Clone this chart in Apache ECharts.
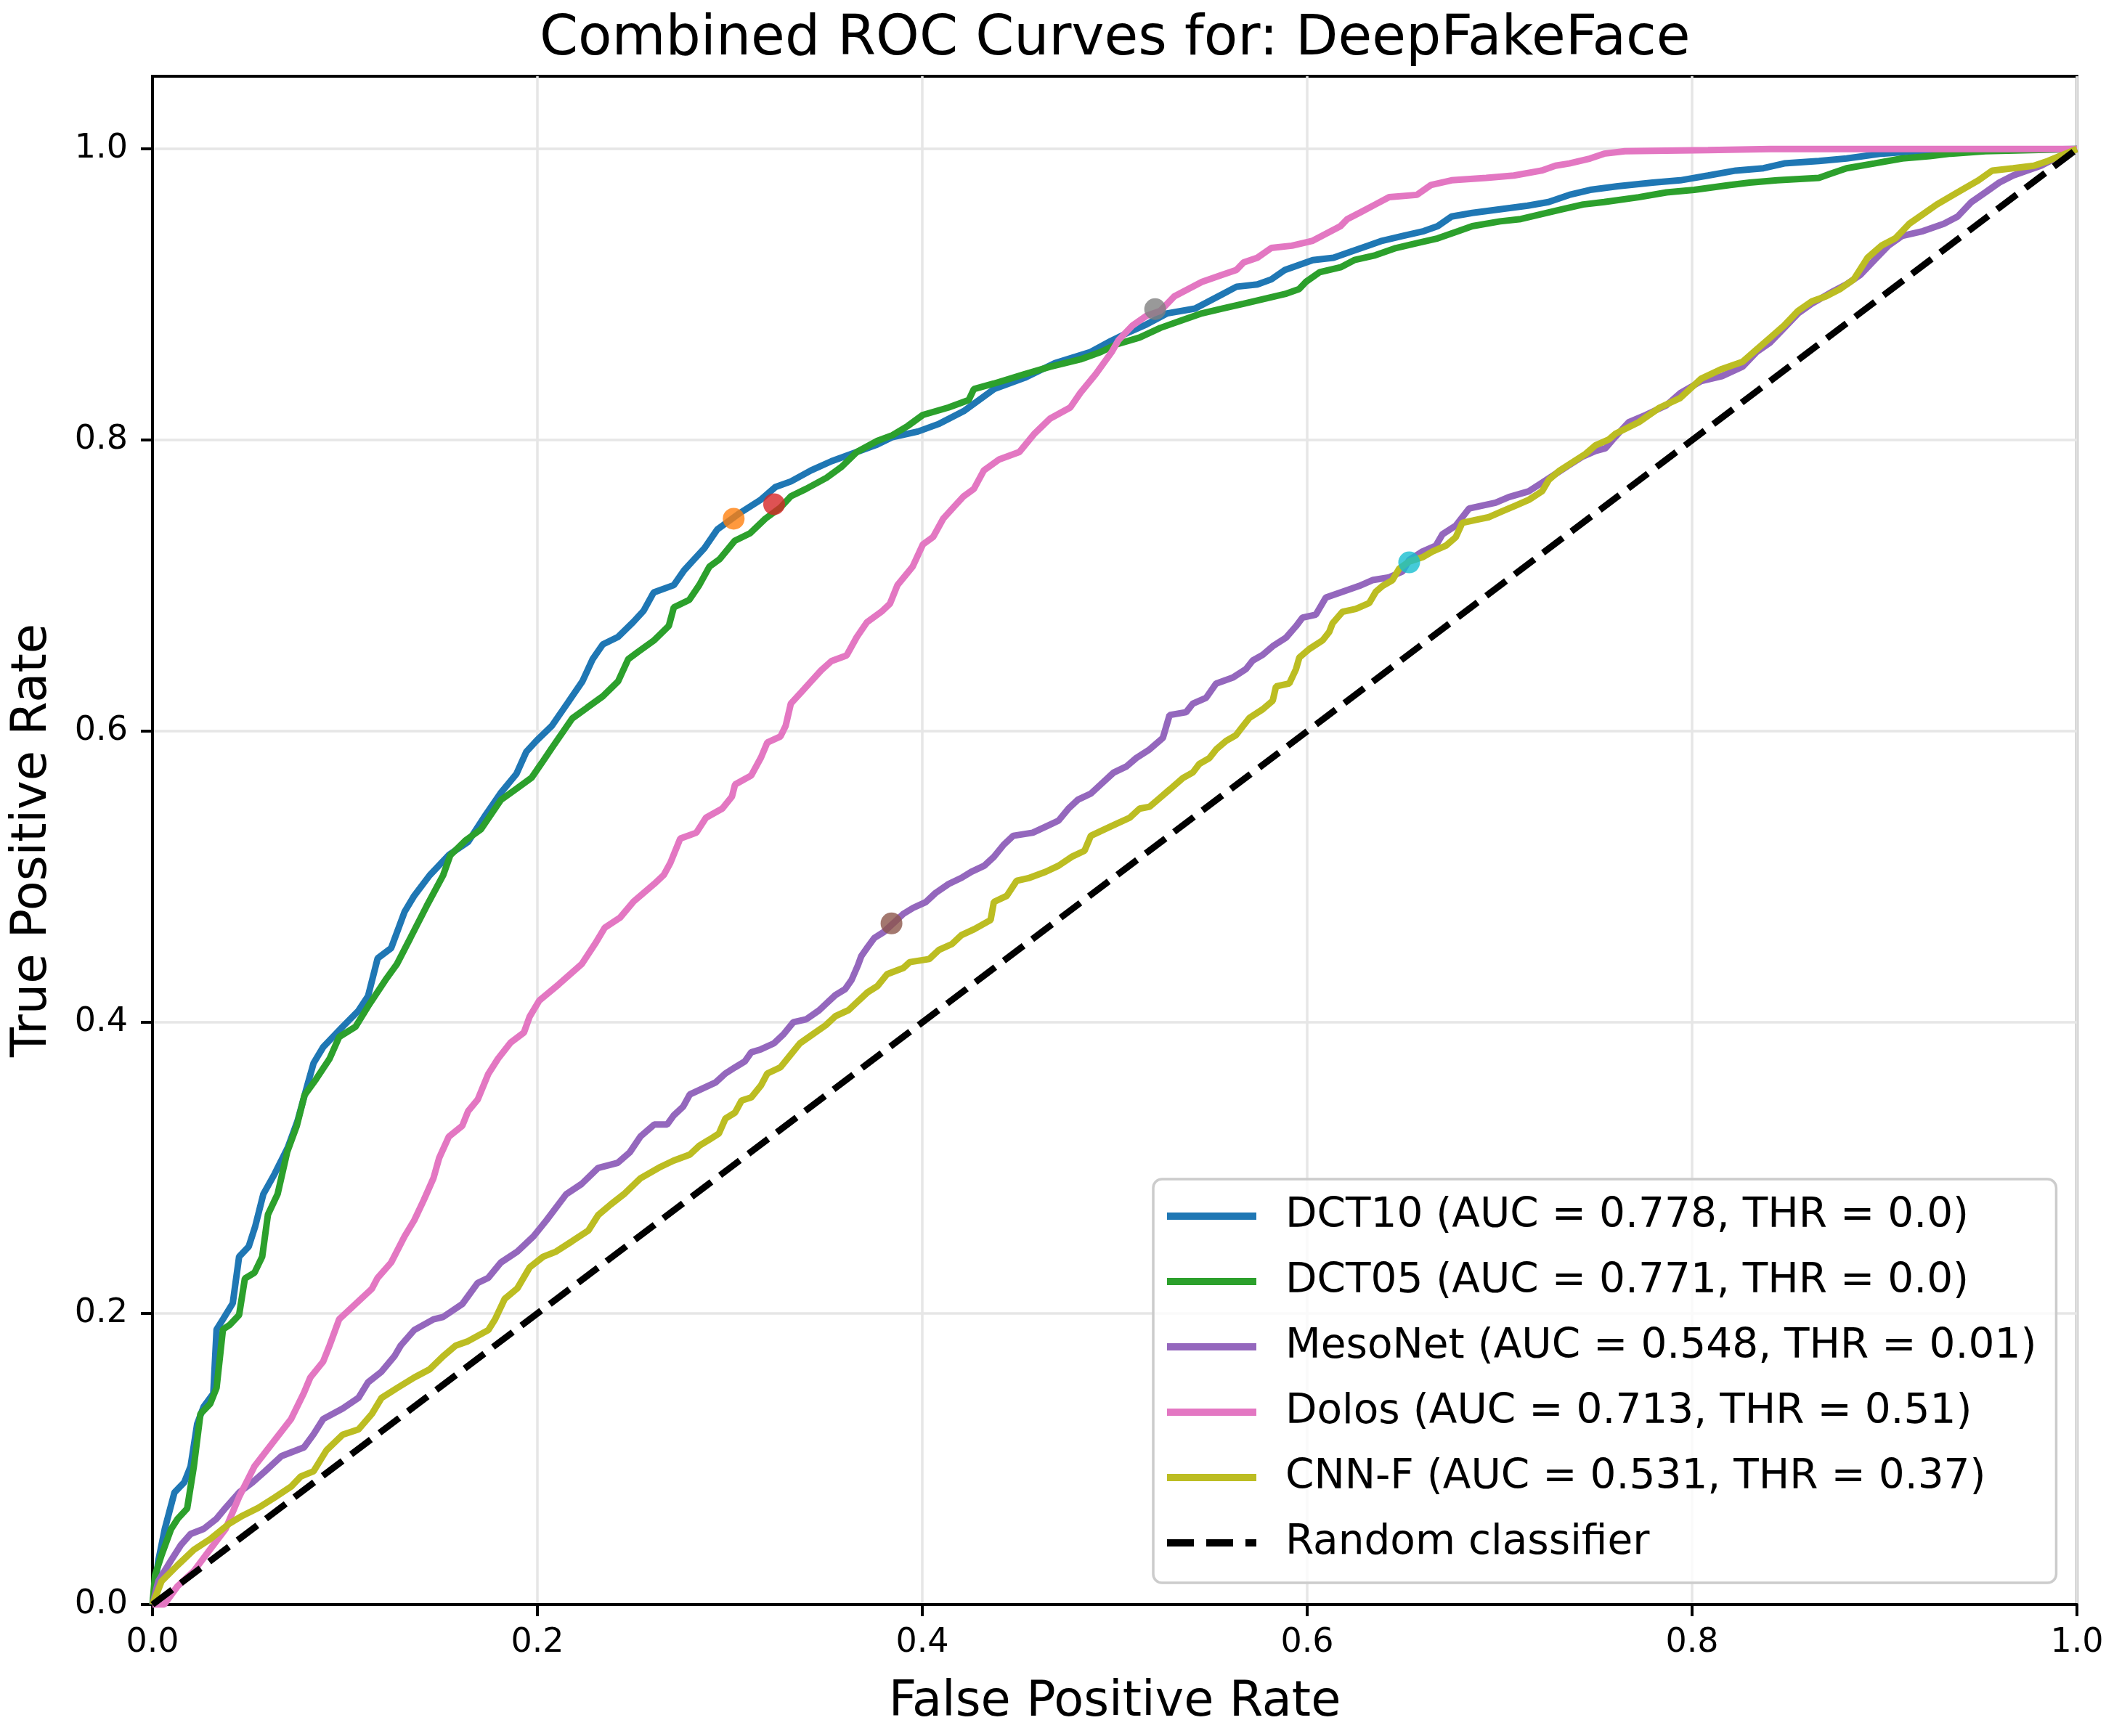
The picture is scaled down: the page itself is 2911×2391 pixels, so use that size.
<!DOCTYPE html>
<html>
<head>
<meta charset="utf-8">
<script src="https://cdn.jsdelivr.net/npm/echarts@6/dist/echarts.min.js"></script>
<style>
html,body{margin:0;padding:0;background:#fff;}
#chart{width:2911px;height:2391px;}
</style>
</head>
<body>
<div id="chart"></div>
<script>
// ---------- data ----------
var chartTitle = 'Combined ROC Curves for: DeepFakeFace';
var xTicks = [0, 0.2, 0.4, 0.6, 0.8, 1.0];
var yTicks = [0, 0.2, 0.4, 0.6, 0.8, 1.0];
var seriesNames = [
  'DCT10 (AUC = 0.778, THR = 0.0)',
  'DCT05 (AUC = 0.771, THR = 0.0)',
  'MesoNet (AUC = 0.548, THR = 0.01)',
  'Dolos (AUC = 0.713, THR = 0.51)',
  'CNN-F (AUC = 0.531, THR = 0.37)',
  'Random classifier'
];

var dct10 = [[0,0],[0.003,0.03],[0.0064,0.052],[0.0114,0.077],[0.0165,0.084],[0.0198,0.095],[0.0232,0.124],[0.0266,0.136],[0.0316,0.145],[0.0333,0.189],[0.0366,0.196],[0.0417,0.207],[0.045,0.239],[0.05,0.246],[0.0534,0.26],[0.0576,0.282],[0.0635,0.296],[0.0703,0.314],[0.0753,0.332],[0.0803,0.356],[0.0837,0.372],[0.0887,0.383],[0.0988,0.397],[0.107,0.408],[0.112,0.418],[0.117,0.444],[0.124,0.451],[0.131,0.476],[0.136,0.487],[0.144,0.501],[0.154,0.515],[0.164,0.524],[0.1732,0.5427],[0.1811,0.5579],[0.1891,0.5707],[0.1943,0.586],[0.1996,0.5936],[0.2075,0.6037],[0.2155,0.619],[0.2234,0.6343],[0.2287,0.6495],[0.234,0.6597],[0.2419,0.6648],[0.2498,0.675],[0.2551,0.6826],[0.2604,0.6953],[0.2709,0.7004],[0.2762,0.7105],[0.2815,0.7182],[0.2868,0.7258],[0.2934,0.7385],[0.3053,0.75],[0.3158,0.7588],[0.3237,0.7678],[0.3317,0.7716],[0.3422,0.7792],[0.3528,0.7855],[0.366,0.7919],[0.3766,0.797],[0.3845,0.8021],[0.3977,0.8059],[0.4083,0.811],[0.4215,0.8199],[0.4294,0.8275],[0.4373,0.8351],[0.4532,0.8428],[0.469,0.853],[0.4875,0.8606],[0.4981,0.8682],[0.506,0.8733],[0.5165,0.8795],[0.5273,0.8871],[0.5417,0.8904],[0.5489,0.8954],[0.5561,0.9004],[0.5633,0.9054],[0.5741,0.907],[0.5813,0.9104],[0.5885,0.917],[0.6029,0.9237],[0.6137,0.9253],[0.6209,0.9287],[0.6318,0.9336],[0.639,0.937],[0.6498,0.9403],[0.6606,0.9436],[0.6678,0.947],[0.675,0.9536],[0.6858,0.9561],[0.7002,0.9586],[0.7146,0.9611],[0.7254,0.9636],[0.7362,0.9685],[0.747,0.9719],[0.7614,0.9744],[0.7795,0.9769],[0.7939,0.9785],[0.8083,0.9818],[0.8227,0.9852],[0.8371,0.9868],[0.8479,0.9901],[0.8659,0.9918],[0.8803,0.9935],[0.8984,0.9968],[0.9164,0.9985],[0.9524,0.9993],[1,1]];

var dct05 = [[0,0],[0.0013,0.02],[0.0047,0.034],[0.0097,0.052],[0.0131,0.059],[0.018,0.066],[0.0215,0.095],[0.0249,0.131],[0.03,0.138],[0.0333,0.149],[0.0366,0.189],[0.04,0.192],[0.045,0.199],[0.048,0.224],[0.053,0.228],[0.057,0.239],[0.06,0.268],[0.065,0.282],[0.07,0.311],[0.075,0.329],[0.079,0.35],[0.085,0.361],[0.092,0.375],[0.097,0.39],[0.1055,0.397],[0.112,0.411],[0.121,0.429],[0.127,0.44],[0.134,0.458],[0.1425,0.48],[0.151,0.501],[0.1547,0.5147],[0.1626,0.5249],[0.1706,0.5325],[0.1811,0.5529],[0.1891,0.5605],[0.197,0.5681],[0.2023,0.5783],[0.2075,0.5885],[0.2181,0.6088],[0.226,0.6164],[0.234,0.624],[0.2419,0.6342],[0.2472,0.6495],[0.2524,0.6546],[0.2604,0.6622],[0.2683,0.6724],[0.2709,0.6851],[0.2789,0.6902],[0.2841,0.7004],[0.2894,0.7131],[0.2947,0.7182],[0.3026,0.7309],[0.3105,0.736],[0.3185,0.7461],[0.3264,0.7538],[0.3317,0.7614],[0.3396,0.7665],[0.3502,0.7741],[0.3581,0.7817],[0.366,0.7919],[0.3766,0.7995],[0.3845,0.8034],[0.3924,0.8097],[0.4003,0.8173],[0.4136,0.8224],[0.4241,0.8275],[0.4268,0.8351],[0.4373,0.8389],[0.4532,0.8453],[0.4664,0.8504],[0.4822,0.8555],[0.4928,0.8606],[0.5007,0.8657],[0.5129,0.8705],[0.5237,0.8771],[0.5345,0.8821],[0.5453,0.8871],[0.5561,0.8904],[0.5669,0.8937],[0.5777,0.8971],[0.5885,0.9004],[0.5957,0.9037],[0.5993,0.9087],[0.6065,0.9154],[0.6173,0.9187],[0.6245,0.9237],[0.6354,0.927],[0.6462,0.932],[0.657,0.9353],[0.6678,0.9386],[0.6786,0.9436],[0.6858,0.947],[0.7002,0.9503],[0.711,0.9519],[0.7218,0.9553],[0.7326,0.9586],[0.7434,0.9619],[0.7543,0.9636],[0.7723,0.9669],[0.7867,0.9702],[0.8011,0.9719],[0.8191,0.9752],[0.8299,0.9769],[0.8443,0.9785],[0.8659,0.9802],[0.8731,0.9835],[0.8803,0.9868],[0.8947,0.9901],[0.9092,0.9935],[0.9236,0.9951],[0.9344,0.9968],[0.9524,0.9985],[1,1]];

var mesonet = [[0,0],[0.003,0.016],[0.0097,0.0305],[0.0148,0.041],[0.0198,0.0485],[0.0266,0.052],[0.0333,0.059],[0.038,0.0665],[0.045,0.077],[0.052,0.084],[0.0585,0.0916],[0.067,0.102],[0.0787,0.108],[0.0837,0.117],[0.0887,0.1275],[0.0988,0.1347],[0.107,0.142],[0.112,0.1527],[0.119,0.16],[0.1257,0.1706],[0.129,0.178],[0.136,0.1886],[0.146,0.196],[0.151,0.1976],[0.161,0.2065],[0.169,0.221],[0.1745,0.2245],[0.181,0.235],[0.1896,0.2425],[0.198,0.253],[0.2047,0.264],[0.215,0.282],[0.223,0.289],[0.2316,0.3],[0.2417,0.3035],[0.248,0.3107],[0.2535,0.3215],[0.2607,0.3298],[0.2674,0.3298],[0.2708,0.336],[0.2758,0.3422],[0.2792,0.3505],[0.2859,0.3546],[0.2926,0.3587],[0.2977,0.3649],[0.3027,0.3691],[0.3078,0.3732],[0.3111,0.3794],[0.3162,0.3815],[0.3229,0.3856],[0.3279,0.3918],[0.333,0.4001],[0.3397,0.4021],[0.3464,0.4083],[0.3498,0.4125],[0.3548,0.4187],[0.3599,0.4228],[0.3632,0.429],[0.3666,0.4393],[0.3683,0.4455],[0.3716,0.4517],[0.375,0.4579],[0.38,0.4621],[0.3851,0.4683],[0.3901,0.4745],[0.3952,0.4786],[0.4019,0.4827],[0.4069,0.4889],[0.4137,0.4951],[0.4204,0.4993],[0.4254,0.5034],[0.4322,0.5076],[0.4372,0.5137],[0.4423,0.522],[0.4473,0.5282],[0.4574,0.5303],[0.4641,0.5344],[0.4708,0.5386],[0.4759,0.5468],[0.4809,0.553],[0.4876,0.5572],[0.4927,0.5634],[0.4994,0.5716],[0.5061,0.5758],[0.5112,0.5816],[0.5181,0.5875],[0.525,0.5954],[0.5285,0.6111],[0.5371,0.6131],[0.5406,0.619],[0.5475,0.623],[0.5527,0.6328],[0.5613,0.6368],[0.5682,0.6427],[0.5717,0.6486],[0.5769,0.6525],[0.5821,0.6584],[0.589,0.6643],[0.5942,0.6722],[0.5976,0.6781],[0.6045,0.6801],[0.6097,0.6919],[0.6184,0.6959],[0.627,0.6998],[0.6339,0.7038],[0.6426,0.7057],[0.6495,0.7097],[0.653,0.7176],[0.6599,0.7235],[0.6668,0.7274],[0.6703,0.7353],[0.6772,0.7412],[0.6841,0.753],[0.691,0.755],[0.6979,0.757],[0.7048,0.7609],[0.7152,0.7649],[0.7221,0.7708],[0.729,0.7767],[0.7359,0.7826],[0.7429,0.7885],[0.7498,0.7925],[0.755,0.7944],[0.7601,0.8023],[0.767,0.8122],[0.7759,0.8173],[0.7867,0.824],[0.7939,0.8323],[0.8047,0.8406],[0.8155,0.8439],[0.8263,0.8505],[0.8335,0.8605],[0.8407,0.8672],[0.8479,0.8771],[0.8551,0.8871],[0.8623,0.8938],[0.8731,0.9021],[0.8803,0.9071],[0.8876,0.9137],[0.8948,0.9237],[0.902,0.9336],[0.9092,0.9403],[0.92,0.9436],[0.9308,0.9486],[0.938,0.9536],[0.9452,0.9636],[0.9524,0.9702],[0.9596,0.9769],[0.9668,0.9818],[0.974,0.9852],[0.9813,0.9885],[0.9885,0.9935],[1,1]];

var dolos = [[0,0],[0.006,0.0],[0.013,0.0126],[0.0215,0.023],[0.03,0.038],[0.038,0.052],[0.045,0.074],[0.053,0.095],[0.0635,0.113],[0.072,0.1275],[0.0787,0.1455],[0.082,0.156],[0.0887,0.167],[0.092,0.178],[0.097,0.196],[0.1055,0.2065],[0.114,0.217],[0.117,0.2245],[0.124,0.235],[0.131,0.253],[0.136,0.264],[0.141,0.278],[0.146,0.293],[0.149,0.307],[0.154,0.3215],[0.161,0.329],[0.164,0.339],[0.169,0.347],[0.1745,0.3646],[0.1795,0.375],[0.186,0.386],[0.193,0.393],[0.196,0.404],[0.201,0.415],[0.211,0.426],[0.223,0.44],[0.23,0.454],[0.235,0.465],[0.243,0.472],[0.25,0.483],[0.2607,0.4951],[0.2657,0.5013],[0.2691,0.5096],[0.2742,0.5262],[0.2826,0.5303],[0.2876,0.5406],[0.296,0.5468],[0.3011,0.5551],[0.3027,0.5634],[0.3111,0.5696],[0.3162,0.582],[0.3195,0.5923],[0.3263,0.5964],[0.329,0.6037],[0.3317,0.619],[0.337,0.6266],[0.3422,0.6342],[0.3475,0.6419],[0.3528,0.6482],[0.3607,0.6521],[0.366,0.6648],[0.3713,0.675],[0.3792,0.6826],[0.3832,0.6876],[0.3871,0.7004],[0.395,0.7131],[0.4003,0.7283],[0.4056,0.7334],[0.4109,0.7461],[0.4162,0.7538],[0.4215,0.7614],[0.4268,0.7665],[0.432,0.7792],[0.44,0.7868],[0.4505,0.7919],[0.4584,0.8046],[0.4664,0.8148],[0.4769,0.8224],[0.4822,0.8326],[0.4901,0.8453],[0.4984,0.8605],[0.502,0.8688],[0.5093,0.8788],[0.5165,0.8854],[0.5237,0.8888],[0.5309,0.8987],[0.5381,0.9037],[0.5453,0.9087],[0.5561,0.9137],[0.5633,0.917],[0.5669,0.922],[0.5741,0.9253],[0.5813,0.932],[0.5921,0.9336],[0.6029,0.937],[0.6101,0.942],[0.6173,0.947],[0.6209,0.9519],[0.6282,0.9569],[0.6354,0.9619],[0.6426,0.9669],[0.657,0.9685],[0.6642,0.9752],[0.675,0.9785],[0.693,0.9802],[0.7074,0.9818],[0.7218,0.9852],[0.729,0.9885],[0.7362,0.9901],[0.747,0.9935],[0.7543,0.9968],[0.7651,0.9985],[0.8083,0.9993],[0.8407,1],[1,1]];

var cnnf = [[0,0],[0.0047,0.016],[0.013,0.027],[0.0215,0.0377],[0.03,0.045],[0.04,0.0557],[0.0467,0.061],[0.055,0.0665],[0.0635,0.0736],[0.072,0.081],[0.077,0.088],[0.0837,0.0916],[0.0904,0.106],[0.0988,0.1167],[0.107,0.1203],[0.114,0.131],[0.119,0.142],[0.1274,0.149],[0.136,0.156],[0.144,0.1616],[0.151,0.1706],[0.1576,0.178],[0.164,0.181],[0.1745,0.1886],[0.178,0.196],[0.183,0.21],[0.1896,0.2173],[0.196,0.2317],[0.203,0.239],[0.2097,0.2425],[0.218,0.2496],[0.2265,0.257],[0.2316,0.2676],[0.238,0.2748],[0.245,0.282],[0.2534,0.2927],[0.2641,0.3008],[0.2708,0.305],[0.2792,0.3091],[0.2842,0.3153],[0.2893,0.3194],[0.2943,0.3236],[0.2977,0.3339],[0.3027,0.338],[0.3061,0.3463],[0.3111,0.3484],[0.3162,0.3567],[0.3195,0.3649],[0.3263,0.3691],[0.3313,0.3773],[0.3364,0.3856],[0.3431,0.3918],[0.3498,0.398],[0.3548,0.4042],[0.3616,0.4083],[0.3666,0.4145],[0.3716,0.4207],[0.3767,0.4249],[0.3817,0.4331],[0.3901,0.4373],[0.3935,0.4414],[0.4036,0.4435],[0.4086,0.4497],[0.4154,0.4538],[0.4204,0.46],[0.4271,0.4641],[0.4355,0.4703],[0.4372,0.4827],[0.4439,0.4869],[0.449,0.4972],[0.4557,0.4993],[0.4641,0.5034],[0.4708,0.5076],[0.4776,0.5137],[0.4843,0.5179],[0.4876,0.5282],[0.4944,0.5324],[0.5011,0.5365],[0.5078,0.5406],[0.5129,0.5468],[0.5181,0.5481],[0.5233,0.554],[0.5285,0.5599],[0.5354,0.5678],[0.5406,0.5717],[0.544,0.5776],[0.5492,0.5816],[0.5527,0.5875],[0.5579,0.5934],[0.563,0.5973],[0.5665,0.6033],[0.57,0.6092],[0.5769,0.6151],[0.5821,0.621],[0.5838,0.6308],[0.5907,0.6328],[0.5942,0.6427],[0.5959,0.6506],[0.6011,0.6565],[0.608,0.6624],[0.6115,0.6683],[0.6132,0.6742],[0.6184,0.6821],[0.6253,0.6841],[0.6322,0.688],[0.6357,0.6959],[0.6391,0.6998],[0.6443,0.7038],[0.6478,0.7117],[0.653,0.7166],[0.6599,0.7195],[0.6651,0.7235],[0.672,0.7274],[0.6772,0.7333],[0.6806,0.7432],[0.6875,0.7452],[0.6945,0.7471],[0.7014,0.7511],[0.7083,0.755],[0.7152,0.759],[0.7221,0.7649],[0.7256,0.7728],[0.7308,0.7787],[0.7377,0.7846],[0.7446,0.7905],[0.7498,0.7964],[0.7567,0.8004],[0.7601,0.8043],[0.7723,0.8123],[0.7831,0.8223],[0.7939,0.829],[0.8047,0.8422],[0.8155,0.8489],[0.8263,0.8539],[0.8335,0.8622],[0.8407,0.8705],[0.8479,0.8788],[0.8551,0.8888],[0.8623,0.8954],[0.8695,0.8987],[0.8768,0.9037],[0.884,0.9104],[0.8912,0.9253],[0.8984,0.9336],[0.9056,0.9386],[0.9128,0.9486],[0.92,0.9552],[0.9272,0.9619],[0.938,0.9702],[0.9488,0.9785],[0.956,0.9852],[0.9668,0.9868],[0.9776,0.9885],[0.9849,0.9918],[1,1]];

var randomLine = [[0,0],[1,1]];

// optimal threshold points (FPR, TPR)
var optimalFPR = [0.302, 0.323, 0.384, 0.521, 0.653];
var optimalTPR = [0.746, 0.756, 0.468, 0.890, 0.716];

// ---------- styles ----------
var FONT = 'DejaVu Sans';
var lineColors = ['#1f77b4', '#2ca02c', '#9467bd', '#e377c2', '#bcbd22'];
var markerColors = ['#ff7f0e', '#d62728', '#8c564b', '#7f7f7f', '#17becf'];
var curves = [dct10, dct05, mesonet, dolos, cnnf];
var LW = 9;

var series = [];
curves.forEach(function (d, i) {
  series.push({
    type: 'line', name: seriesNames[i], data: d,
    symbol: 'none', showSymbol: false, smooth: false,
    lineStyle: { color: lineColors[i], width: LW },
    itemStyle: { color: lineColors[i] },
    z: 2 + i * 0.01, silent: true
  });
});
series.push({
  type: 'line', name: seriesNames[5], data: randomLine,
  symbol: 'none', showSymbol: false,
  lineStyle: { color: '#000000', width: LW, type: [34, 15] },
  itemStyle: { color: '#000000' },
  z: 3, silent: true
});
optimalFPR.forEach(function (x, i) {
  series.push({
    type: 'scatter', name: 'opt' + i, data: [[x, optimalTPR[i]]],
    symbol: 'circle', symbolSize: 30,
    itemStyle: { color: markerColors[i], opacity: 0.8 },
    z: 5, silent: true
  });
});

var legendData = seriesNames.map(function (n, i) {
  if (i < 5) return { name: n, icon: 'rect', itemStyle: { color: lineColors[i] } };
  return { name: n, icon: 'path://M0 0H37V10H0Z M54 0H91V10H54Z M108 0H123V10H108Z', itemStyle: { color: '#000000' } };
});

function tickFmt(v) {
  if (Math.abs(v * 5 - Math.round(v * 5)) > 1e-6) return '';
  return v.toFixed(1);
}

var chart = echarts.init(document.getElementById('chart'), null, { renderer: 'canvas' });
chart.setOption({
  animation: false,
  backgroundColor: '#ffffff',
  textStyle: { fontFamily: FONT },
  title: {
    text: chartTitle,
    left: 738, top: 12,
    textStyle: { fontFamily: FONT, fontSize: 76, fontWeight: 'normal', color: '#000' }
  },
  grid: {
    left: 210, right: 51, top: 105, bottom: 181,
    show: true, borderColor: '#000', borderWidth: 4, backgroundColor: 'transparent'
  },
  legend: {
    data: legendData,
    orient: 'vertical',
    left: 1588, top: 1624,
    padding: [19, 27, 23, 19],
    itemWidth: 123, itemHeight: 10, itemGap: 26,
    backgroundColor: 'rgba(255,255,255,0.8)',
    borderColor: '#cccccc', borderWidth: 3.5, borderRadius: 12,
    textStyle: { fontFamily: FONT, fontSize: 56.5, lineHeight: 64, color: '#000', padding: [0, 0, 0, 35] },
    selectedMode: false
  },
  xAxis: {
    type: 'value', min: 0, max: 1, interval: 0.2,
    name: 'False Positive Rate', nameLocation: 'middle', nameGap: 102,
    nameTextStyle: { fontFamily: FONT, fontSize: 67, color: '#000' },
    axisLine: { show: true, lineStyle: { color: '#000', width: 4 } },
    axisTick: { show: true, inside: false, length: 16, lineStyle: { color: '#000', width: 4 }, customValues: xTicks },
    axisLabel: { fontFamily: FONT, fontSize: 46, color: '#000', margin: 30, formatter: tickFmt, customValues: xTicks },
    splitLine: { show: true, lineStyle: { color: '#e6e6e6', width: 3.5 } }
  },
  yAxis: {
    type: 'value', min: 0, max: 1.05, interval: 0.2,
    name: 'True Positive Rate', nameLocation: 'middle', nameGap: 131,
    nameTextStyle: { fontFamily: FONT, fontSize: 67, color: '#000' },
    axisLine: { show: true, lineStyle: { color: '#000', width: 4 } },
    axisTick: { show: true, inside: false, length: 16, lineStyle: { color: '#000', width: 4 }, customValues: yTicks },
    axisLabel: { fontFamily: FONT, fontSize: 46, color: '#000', margin: 34, formatter: tickFmt, customValues: yTicks },
    splitLine: { show: true, lineStyle: { color: '#e6e6e6', width: 3.5 } }
  },
  series: series
});
</script>
</body>
</html>
